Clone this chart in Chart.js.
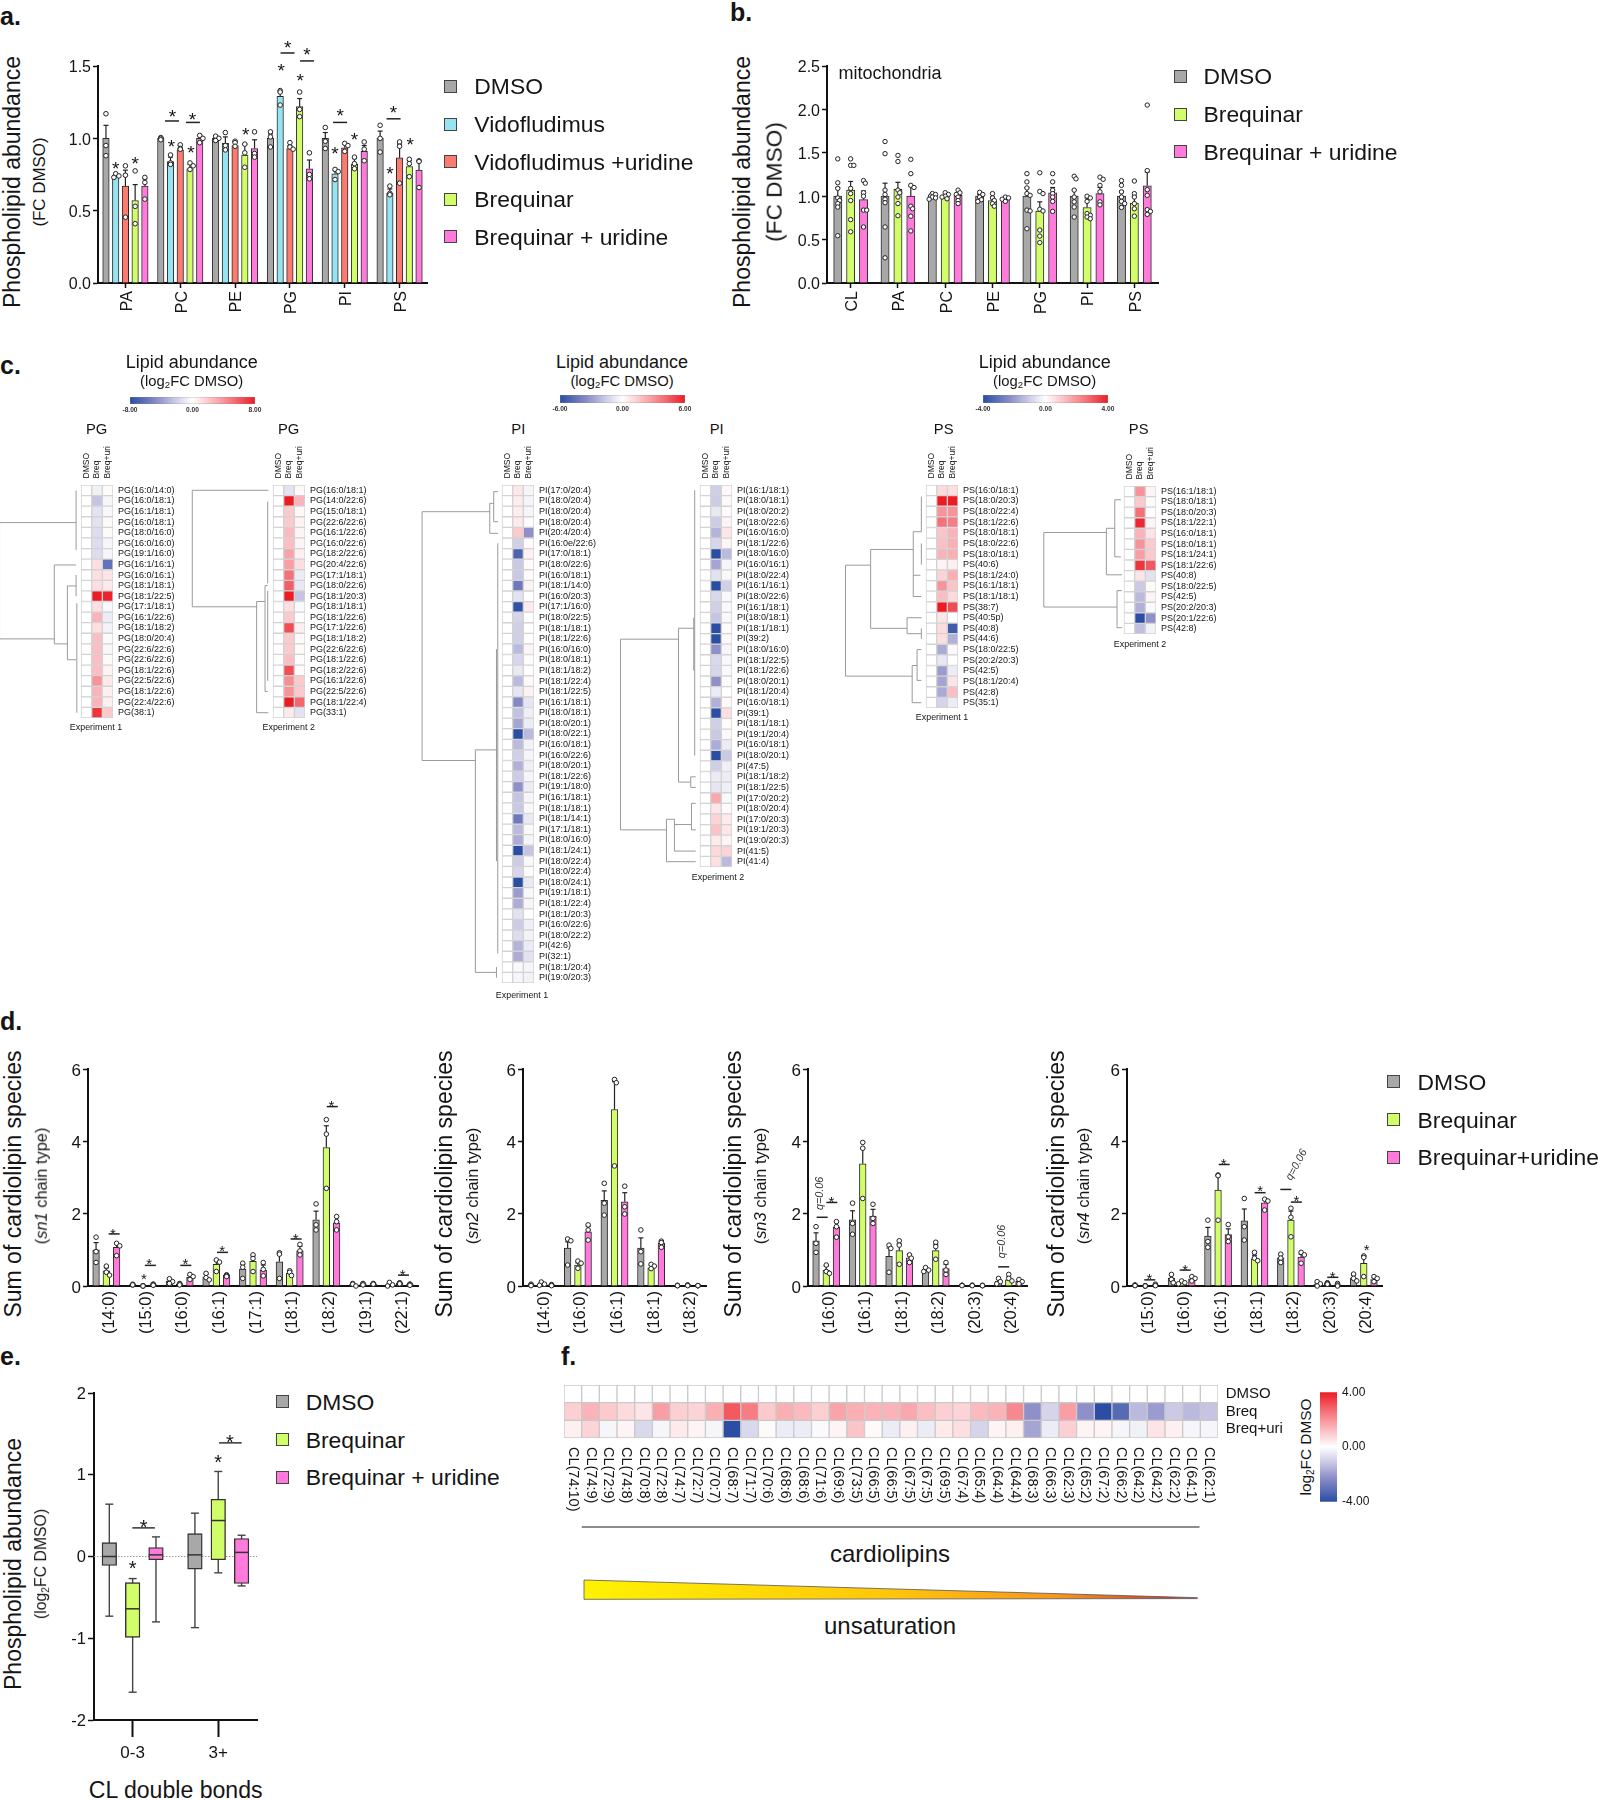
<!DOCTYPE html>
<html><head><meta charset="utf-8">
<style>
html,body{margin:0;padding:0;background:#fff}
#page{position:relative;width:1598px;height:1800px;overflow:hidden;font-family:"Liberation Sans",Arial,sans-serif;color:#151515}
canvas{position:absolute;display:block}
.t{position:absolute;white-space:nowrap;line-height:1;color:#151515}
.s{position:absolute;box-sizing:border-box;border:1px solid #444}
sub{font-size:.65em;line-height:0;vertical-align:-.25em}
</style>
<script src="https://cdn.jsdelivr.net/npm/chart.js@4"></script>
</head><body><div id="page"></div>
<script>
/* ---------- panel a ---------- */
const aCats=['PA','PC','PE','PG','PI','PS'];
const aDmso=[1,1,1,1,1,1];
const aVido=[.745,.84,.965,1.29,.755,.62];
const aVidoUri=[.67,.92,.95,.93,.935,.865];
const aBreq=[.57,.79,.885,1.22,.82,.805];
const aBreqUri=[.67,1,.93,.79,.91,.78];
const aDmsoErr=[1.09,1.005,1.01,1.03,1.04,1.05];
const aVidoErr=[.75,.87,1.01,1.32,.78,.65];
const aVidoUriErr=[.78,.95,.98,.95,.96,.96];
const aBreqErr=[.68,.82,.96,1.275,.86,.845];
const aBreqUriErr=[.72,1.02,.99,.85,.95,.84];
const aDmsoPts=[[1.17,.95,.88],[1.005,1,.99],[1.015,1,.985],[1.045,1.01,.94],[1.075,.98,.93],[1.09,1,.905]];
const aVidoPts=[[.755,.73,.74],[.885,.83,.82],[1.04,.95,.92],[1.33,1.32,1.23],[.785,.77,.715],[.67,.62,.61]];
const aVidoUriPts=[[.81,.745,.455],[.955,.93,.925],[.98,.97,.945],[.97,.94,.925],[.965,.95,.91],[.975,.945,.69]];
const aBreqPts=[[.775,.53,.41],[.83,.81,.785],[.96,.9,.8],[1.32,1.2,1.15],[.87,.825,.79],[.855,.825,.735]];
const aBreqUriPts=[[.73,.695,.58],[1.02,1,.97],[1.045,.895,.87],[.9,.75,.72],[.975,.925,.845],[.845,.84,.66]];
const aBrackets=[[1,-.85,1.12],[1,1.3,1.11],[3,-.24,1.59],[3,1.76,1.535],[4,-.48,1.11],[5,-.62,1.135]];
const aStars=[[0,-1,.82],[0,1,.86],[1,-.9,.975],[1,1.1,.935],[1,-.8,1.18],[1,1.25,1.16],[2,1.1,1.06],[3,-.9,1.5],[3,1.05,1.43],[3,-.24,1.66],[3,1.76,1.61],[4,-1,.925],[4,1,1.02],[4,-.48,1.19],[5,-1,.785],[5,1.1,.99],[5,-.62,1.21]];
/* ---------- panel b ---------- */
const bCats=['CL','PA','PC','PE','PG','PI','PS'];
const bDmso=[1,1,1,1,1,1,1];
const bBreq=[1.07,1.08,1,.95,.83,.87,.92];
const bBreqUri=[.96,1,1.01,.97,1.04,1.03,1.12];
const bDmsoErr=[1.1,1.15,1.01,1.02,1.1,1.07,1.06];
const bBreqErr=[1.17,1.16,1.01,.99,.935,.98,1];
const bBreqUriErr=[1.06,1.12,1.04,.98,1.1,1.1,1.28];
const bDmsoPts=[[1.43,1.155,1.09,.98,.95,.915,.875,.545],[1.63,1.49,1.07,1.02,.965,.925,.645,.29],[1.03,1.02,1,.99,.98,.965],[1.045,1.02,.99,.96,.94],[1.26,1.165,1.095,1.03,1.01,.84,.83,.625],[1.23,1.2,1.07,.99,.935,.875,.76],[1.18,1.125,1.05,.99,.94,.915,.87]];
const bBreqPts=[[1.43,1.355,1.355,1.09,1.03,.95,.73,.59],[1.47,1.4,1.07,1.04,.99,.915,.775],[1.04,1.02,1,.99,.97],[1.03,.98,.95,.915,.885],[1.27,1.055,1.03,.85,.83,.61,.54,.465],[1,.98,.94,.8,.78,.76,.74],[1.175,1.03,.99,.915,.855,.77]];
const bBreqUriPts=[[1.18,1.15,1.04,1,.84,.84,.645],[1.425,1.26,1.125,1.1,.885,.855,.77,.6],[1.07,1.04,1.02,.99,.95,.915],[.99,.98,.965,.94],[1.26,1.165,1.07,1.03,.99,.94,.825],[1.22,1.195,1.125,1.05,.935,.9],[2.05,1.295,1.075,1.01,.845,.825,.79]];
/* ---------- panel c ---------- */
const pg1Labels=['PG(16:0/14:0)','PG(16:0/18:1)','PG(16:1/18:1)','PG(16:0/18:1)','PG(18:0/16:0)','PG(16:0/16:0)','PG(19:1/16:0)','PG(16:1/16:1)','PG(16:0/16:1)','PG(18:1/18:1)','PG(18:1/22:5)','PG(17:1/18:1)','PG(16:1/22:6)','PG(18:1/18:2)','PG(18:0/20:4)','PG(22:6/22:6)','PG(22:6/22:6)','PG(18:1/22:6)','PG(22:5/22:6)','PG(18:1/22:6)','PG(22:4/22:6)','PG(38:1)'];
const pg1Breq=[-.6,-2.4,-1.2,-1.2,-1.4,-1.4,-1.4,1.2,1.2,1.2,8,1.2,2.8,1.2,2.4,2.4,2.4,2.4,4,2.8,2.8,7.2];
const pg1Uri=[.2,-.4,-.3,.2,.2,-.4,-.4,-6,1,.8,7.8,-.3,-.8,-.5,-.2,-.3,.2,.5,.8,.6,.6,2];
const pg1Dendro=[[7.67,3.05,7.67,14.03],[7.67,3.05,.47,3.05],[7.67,14.03,2.52,14.03],[2.52,7.05,2.52,14.5],[2.52,7.05,.47,7.05],[2.52,14.5,1.29,14.5],[1.29,9.03,1.29,16],[1.29,9.03,.47,9.03],[1.29,16,.47,16],[.47,.03,.47,5.63],[.47,8,.47,10],[.4,10.66,.4,21]];
const pg2Labels=['PG(16:0/18:1)','PG(14:0/22:6)','PG(15:0/18:1)','PG(22:6/22:6)','PG(16:1/22:6)','PG(16:0/22:6)','PG(18:2/22:6)','PG(20:4/22:6)','PG(17:1/18:1)','PG(18:0/22:6)','PG(18:1/20:3)','PG(18:1/18:1)','PG(18:1/22:6)','PG(17:1/22:6)','PG(18:1/18:2)','PG(22:6/22:6)','PG(18:1/22:6)','PG(18:2/22:6)','PG(16:1/22:6)','PG(22:5/22:6)','PG(18:1/22:4)','PG(33:1)'];
const pg2Breq=[-1.2,8,2,2,2.6,2.4,3.4,3.6,5.2,5.8,8,1.2,2,6.4,2,2,2.4,6.4,4.2,4,8,.8];
const pg2Uri=[.3,2.8,.3,.5,.4,.4,.6,1.2,-.8,-1,-2.4,-.2,-.1,.6,.2,.2,.1,.2,2,2,5.6,-1.2];
const pg2Dendro=[[7.58,0,7.58,11],[7.58,0,.44,0],[7.58,11,1.54,11],[1.54,10.5,1.54,21],[1.54,10.5,.75,10.5],[1.54,21,.44,21],[.75,9,.75,19],[.75,19,.5,19],[.75,9,.5,9],[.5,1.07,.5,8.78],[.5,9.5,.5,18]];
const pi1Labels=['PI(17:0/20:4)','PI(18:0/20:4)','PI(18:0/20:4)','PI(18:0/20:4)','PI(20:4/20:4)','PI(16:0e/22:6)','PI(17:0/18:1)','PI(18:0/22:6)','PI(16:0/18:1)','PI(18:1/14:0)','PI(16:0/20:3)','PI(17:1/16:0)','PI(18:0/22:5)','PI(18:1/18:1)','PI(18:1/22:6)','PI(16:0/16:0)','PI(18:0/18:1)','PI(18:1/18:2)','PI(18:1/22:4)','PI(18:1/22:5)','PI(16:1/18:1)','PI(18:0/18:1)','PI(18:0/20:1)','PI(18:0/22:1)','PI(16:0/18:1)','PI(16:0/22:6)','PI(18:0/20:1)','PI(18:1/22:6)','PI(19:1/18:0)','PI(16:1/18:1)','PI(18:1/18:1)','PI(18:1/14:1)','PI(17:1/18:1)','PI(18:0/16:0)','PI(18:1/24:1)','PI(18:0/22:4)','PI(18:0/22:4)','PI(18:0/24:1)','PI(19:1/18:1)','PI(18:1/22:4)','PI(18:1/20:3)','PI(16:0/22:6)','PI(18:0/22:2)','PI(42:6)','PI(32:1)','PI(18:1/20:4)','PI(19:0/20:3)'];
const pi1Breq=[.7,.5,.5,.6,1.5,-1.5,-5.1,-1.7,-1.7,-4.2,-.9,-5.8,-1.3,-1.5,-1.5,-2.1,-1.3,-.7,-2.1,-.8,-3.6,-1.9,-2.7,-6,-2.1,-1.5,-2.4,-1.6,-3.3,-1.8,-1.7,-4.2,-2.1,-2.5,-6,-1.6,-1.3,-6,-3,-2.5,-.9,-1.6,-1.1,-2.3,-2.5,-.2,-.3];
const pi1Uri=[-.3,-.3,-.3,.1,-3.3,.1,.4,.1,.1,.4,0,.6,0,0,0,.3,.1,0,.2,.4,-.8,-.5,-.6,-2.1,-.4,-.3,-.5,-.3,-.6,-.3,-.2,-.7,-.2,-.3,-1.8,-.2,-.1,-.7,-.2,-.3,0,-.5,-.4,-.6,-.9,-.3,-.4];
const pi1Dendro=[[7.5,2.02,7.5,25.5],[7.5,2.02,1.15,2.02],[7.5,25.5,2.5,25.5],[1.15,1.23,1.15,4.06],[1.15,1.23,.78,1.23],[1.15,4.06,.37,4.06],[.78,.13,.78,2.96],[.78,.13,.37,.13],[.78,2.96,.37,2.96],[2.5,24.5,2.5,45.5],[2.5,24.5,.52,24.5],[2.5,45.5,.52,45.5],[.52,45,.52,46],[.4,5,.4,43.7],[.52,15,.52,35]];
const pi2Labels=['PI(16:1/18:1)','PI(18:0/18:1)','PI(18:0/20:2)','PI(18:0/22:6)','PI(16:0/16:0)','PI(18:1/22:6)','PI(18:0/16:0)','PI(16:0/16:1)','PI(18:0/22:4)','PI(16:1/16:1)','PI(18:0/22:6)','PI(16:1/18:1)','PI(18:0/18:1)','PI(18:1/18:1)','PI(39:2)','PI(18:0/16:0)','PI(18:1/22:5)','PI(18:1/22:6)','PI(18:0/20:1)','PI(18:1/20:4)','PI(16:0/18:1)','PI(39:1)','PI(18:1/18:1)','PI(19:1/20:4)','PI(16:0/18:1)','PI(18:0/20:1)','PI(47:5)','PI(18:1/18:2)','PI(18:1/22:5)','PI(17:0/20:2)','PI(18:0/20:4)','PI(17:0/20:3)','PI(19:1/20:3)','PI(19:0/20:3)','PI(41:5)','PI(41:4)'];
const pi2Breq=[-1.5,-1.6,-.7,-1.6,-2.3,-1.3,-6,-2.7,-.9,-6,-1.2,-1.5,-1.8,-6,-6,-3.3,-1.2,-1.3,-3.3,-.6,-2.4,-6,-1.5,-1.7,-2.5,-6,-1.5,-.6,-.8,2.4,.7,1.2,1.7,.6,1.1,.9];
const pi2Uri=[.2,.2,.1,.3,.7,.3,-2.1,-.3,-.2,-1.5,-.2,-.2,-.2,.1,.2,-.3,-.2,-.2,.1,0,.2,.9,.1,.2,-.6,-1.7,-.5,-.6,-.5,-.2,.1,.6,.7,.3,1.2,-2.1];
const pi2Dendro=[[7.46,14.03,7.46,32],[7.46,14.03,2.02,14.03],[2.02,13,2.02,27.5],[2.02,13,.59,13],[2.02,27.5,.87,27.5],[.87,27,.87,28],[.87,27,.4,27],[.87,28,.4,28],[.5,0,.5,25],[.59,12,.59,17],[7.46,32,3.15,32],[3.15,31,3.15,35],[3.15,35,.4,35],[3.15,31,2.4,31],[2.4,31,2.4,34],[2.4,34,.4,34],[2.4,31.5,.8,31.5],[.8,29.5,.8,32],[.8,29.5,.4,29.5],[.8,32,.4,32]];
const ps1Labels=['PS(16:0/18:1)','PS(18:0/20:3)','PS(18:0/22:4)','PS(18:1/22:6)','PS(18:0/18:1)','PS(18:0/22:6)','PS(18:0/18:1)','PS(40:6)','PS(18:1/24:0)','PS(16:1/18:1)','PS(18:1/18:1)','PS(38:7)','PS(40:5p)','PS(40:8)','PS(44:6)','PS(18:0/22:5)','PS(20:2/20:3)','PS(42:5)','PS(18:1/20:4)','PS(42:8)','PS(35:1)'];
const ps1Breq=[.7,4,2,2.6,1.1,1.2,1.4,.2,.8,2,1.2,4,.5,.7,.6,-1.7,-.5,-2,-1.8,-1.7,-.9];
const ps1Uri=[.6,4,2,2.4,1.4,1.5,1.5,.3,1.5,1.1,.7,3.2,0,-3.6,-1.6,-.1,0,-.4,.5,1.2,-.4];
const ps1Dendro=[[7.56,7.05,7.56,17.5],[7.56,7.05,5.2,7.05],[5.2,5.57,5.2,13],[5.2,5.57,1.2,5.57],[1.2,3.9,1.2,10],[1.2,3.9,.44,3.9],[1.2,8,.53,8],[1.2,10,.44,10],[.44,.6,.44,3.9],[.44,5,.44,7],[5.2,13,1.78,13],[1.78,12,1.78,13.5],[1.78,12,.4,12],[1.78,13.5,.44,13.5],[.44,13,.44,14],[7.56,17.5,1.3,17.5],[1.3,16.5,1.3,20],[1.3,20,.44,20],[1.3,16.5,.84,16.5],[.84,15,.84,17.9],[.84,15,.44,15],[.84,17.9,.44,17.9]];
const ps2Labels=['PS(16:1/18:1)','PS(18:0/18:1)','PS(18:0/20:3)','PS(18:1/22:1)','PS(16:0/18:1)','PS(18:0/18:1)','PS(18:1/24:1)','PS(18:1/22:6)','PS(40:8)','PS(18:0/22:5)','PS(42:5)','PS(20:2/20:3)','PS(20:1/22:6)','PS(42:8)'];
const ps2Breq=[2,1,2.6,3.8,1.4,2,1.8,3.6,.5,-1.1,-1.4,-1.6,-4,-1.3];
const ps2Uri=[.2,.1,0,.2,.5,1,1,3,-.6,.1,.2,-.1,-2.2,-.3];
const ps2Dendro=[[7.53,3.9,7.53,10.95],[7.53,3.9,1.66,3.9],[1.66,3.5,1.66,7.9],[1.66,7.9,.2,7.9],[1.66,3.5,.87,3.5],[.87,.8,.87,6.2],[.87,.8,.3,.8],[.87,6.2,.3,6.2],[7.53,10.95,.66,10.95],[.66,9.4,.66,12.9],[.66,9.4,.2,9.4],[.66,12.9,.2,12.9]];
const heatCols=['DMSO','Breq','Breq+uri'];
/* ---------- panel d ---------- */
const d1Cats=['(14:0)','(15:0)','(16:0)','(16:1)','(17:1)','(18:1)','(18:2)','(19:1)','(22:1)'];
const d1Dmso=[1,.04,.13,.25,.47,.67,1.83,.04,.05];
const d1Breq=[.42,.01,.05,.6,.68,.35,3.83,.05,.08];
const d1Uri=[1.07,.04,.24,.3,.43,.97,1.75,.06,.05];
const d1DmsoErr=[1.2,.05,.18,.33,.6,.88,2.07,.06,.08];
const d1BreqErr=[.5,.01,.06,.7,.83,.42,4.43,.06,.09];
const d1UriErr=[1.18,.05,.29,.32,.58,1.1,1.9,.07,.06];
const d1DmsoPts=[[1.35,.95,.65],[.05,.03,.03],[.2,.12,.07],[.35,.23,.17],[.63,.52,.21],[.92,.88,.21],[2.27,1.69,1.55],[.07,.05,0],[.1,.03,0]];
const d1BreqPts=[[.55,.38,.3],[.01,0,0],[.07,.05,.03],[.72,.66,.4],[.86,.76,.4],[.42,.38,.29],[4.6,4.2,2.7],[.07,.06,.03],[.09,.08,.06]];
const d1UriPts=[[1.18,1.11,.84],[.055,.035,.02],[.32,.26,.18],[.31,.29,.26],[.65,.46,.28],[1.15,.97,.86],[1.92,1.78,1.55],[.07,.06,.05],[.055,.04,.02]];
const d1Brackets=[[0,.76,1.44],[1,.72,.57],[2,.6,.57],[3,.6,.93],[5,.63,1.3],[6,.58,4.96],[8,.37,.3]];
const d1Stars=[[0,.65,1.55],[1,.6,.7],[1,.09,.29],[2,.56,.7],[3,.56,1.06],[5,.59,1.41],[6,.5,5.08],[8,.3,.42]];
const d2Cats=['(14:0)','(16:0)','(16:1)','(18:1)','(18:2)'];
const d2Dmso=[.03,1.05,2.37,1.05,.01];
const d2Breq=[.06,.58,4.88,.5,.02];
const d2Uri=[.03,1.5,2.33,1.18,.01];
const d2DmsoErr=[.04,1.22,2.63,1.33,.02];
const d2BreqErr=[.08,.64,5.65,.58,.03];
const d2UriErr=[.04,1.65,2.58,1.25,.02];
const d2DmsoPts=[[.05,.03,.01],[1.3,1.25,.58],[2.84,2.29,1.96],[1.55,.95,.61],[.01,.01,.02]];
const d2BreqPts=[[.11,.05,.02],[.69,.63,.49],[5.71,5.62,3.32],[.6,.55,.48],[.01,.02,.03]];
const d2UriPts=[[.04,.02,.01],[1.69,1.55,1.27],[2.76,2.19,1.99],[1.24,1.2,1.07],[.01,.01,.01]];
const d3Cats=['(16:0)','(16:1)','(18:1)','(18:2)','(20:3)','(20:4)'];
const d3Dmso=[1.25,1.83,.82,.43,.02,.13];
const d3Breq=[.43,3.38,.98,.98,.02,.17];
const d3Uri=[1.62,1.93,.78,.48,.01,.13];
const d3DmsoErr=[1.47,2.08,1.05,.5,.03,.19];
const d3BreqErr=[.55,3.8,1.17,1.15,.03,.25];
const d3UriErr=[1.77,2.12,.87,.6,.02,.18];
const d3DmsoPts=[[1.64,1.18,.93],[2.29,1.73,1.43],[1.13,1.04,.38],[.51,.44,.4],[.01,.02,.02],[.21,.12,.06]];
const d3BreqPts=[[.58,.4,.35],[3.97,3.81,2.42],[1.25,1.13,.6],[1.21,1.09,.74],[.01,.02,.02],[.32,.21,.14]];
const d3UriPts=[[1.78,1.64,1.35],[2.26,1.87,1.73],[.86,.77,.65],[.65,.44,.32],[.01,.01,.02],[.18,.12,.06]];
const d3Brackets=[[0,-.4,1.9],[0,.55,2.31],[5,-.5,.53]];
const d3Stars=[[0,.5,2.42]];
const d3Notes=[[0,-.6,2.56,-90,'q=0.06'],[5,-.67,1.23,-90,'q=0.06']];
const d4Cats=['(15:0)','(16:0)','(16:1)','(18:1)','(18:2)','(20:3)','(20:4)'];
const d4Dmso=[.03,.22,1.38,1.8,.78,.05,.22];
const d4Breq=[.01,.1,2.65,.75,1.82,.07,.63];
const d4Uri=[.03,.2,1.42,2.3,.8,.03,.18];
const d4DmsoErr=[.04,.33,1.62,2.13,.87,.1,.3];
const d4BreqErr=[.01,.13,3.05,.85,2.07,.09,.83];
const d4UriErr=[.04,.25,1.58,2.38,.88,.05,.23];
const d4DmsoPts=[[.03,.02,.01],[.32,.18,.09],[1.82,1.23,1.07],[2.42,1.64,1.27],[.88,.77,.65],[.12,.06,0],[.33,.21,.14]];
const d4BreqPts=[[.01,0,0],[.14,.09,.06],[3.07,3.05,1.82],[.93,.77,.7],[2.15,1.9,1.36],[.09,.07,.05],[.83,.79,.26]];
const d4UriPts=[[.05,.02,.01],[.26,.21,.14],[1.7,1.36,1.23],[2.4,2.35,2.1],[.93,.86,.63],[.07,.03,0],[.26,.21,.12]];
const d4Brackets=[[0,.45,.17],[1,.35,.44],[2,.6,3.36],[3,.55,2.58],[4,-.5,2.67],[4,.53,2.32],[5,.53,.24]];
const d4Stars=[[0,.4,.29],[1,.35,.55],[2,.55,3.47],[3,.55,2.72],[4,.55,2.44],[5,.53,.35],[6,.28,1.11]];
const d4Notes=[[4,.55,3.35,-62,'q=0.06']];
/* ---------- panel e: [low, q1, median, q3, high] ---------- */
const eCats=['0-3','3+'];
const eDmso=[[-.73,-.11,0,.17,.64],[-.87,-.155,.02,.28,.53]];
const eBreq=[[-1.66,-.99,-.64,-.32,-.27],[-.2,-.04,.44,.7,1.04]];
const eUri=[[-.8,-.04,.02,.11,.24],[-.36,-.33,.05,.22,.26]];
const eBrackets=[[0,.47,.35],[1,.52,1.39]];
const eStars=[[0,.47,.42],[0,0,-.09],[1,.5,1.46],[1,0,1.21]];
/* ---------- panel f ---------- */
const clLabels=['CL(74:10)','CL(74:9)','CL(72:9)','CL(74:8)','CL(70:8)','CL(72:8)','CL(74:7)','CL(72:7)','CL(70:7)','CL(68:7)','CL(71:7)','CL(70:6)','CL(68:6)','CL(68:6)','CL(71:6)','CL(69:6)','CL(73:5)','CL(66:5)','CL(66:5)','CL(67:5)','CL(67:5)','CL(69:5)','CL(67:4)','CL(65:4)','CL(64:4)','CL(64:4)','CL(68:3)','CL(66:3)','CL(62:3)','CL(65:2)','CL(67:2)','CL(66:2)','CL(64:2)','CL(64:2)','CL(62:2)','CL(64:1)','CL(62:1)'];
const clBreq=[.9,1.4,1,.7,.5,1.8,.9,.8,1.5,3,2.4,1,1.5,1.3,.9,1.7,1.5,1.4,1.4,1.6,1.2,.9,.8,1.3,1.4,2.2,-2.2,-.9,1.8,-2.2,-4,-3.2,-1.4,-2,-1.1,-1.4,-1.2];
const clUri=[.3,.8,-.2,.2,-.8,-.2,.4,.2,-.2,-4,-.8,.1,-.4,-.4,-.1,.2,1.1,.1,-.4,.3,-.4,.4,.6,-.9,.2,.3,-1.8,-.4,.9,.2,.2,-.2,-.3,.5,.3,-.2,-.2];

/* ---------- helpers ---------- */
const GRAY='#A8A8A8',CYAN='#96E3F2',RED='#FB7B70',LIME='#D2FD6B',PINK='#FF7ADB',INK='#151515';
const FONT='"Liberation Sans",Arial,sans-serif';
Chart.defaults.animation=false;
Chart.defaults.font.family=FONT;
Chart.defaults.color=INK;
Chart.defaults.plugins.legend.display=false;
Chart.defaults.plugins.tooltip.enabled=false;
const page=document.getElementById('page');
function mkCanvas(x,y,w,h){const c=document.createElement('canvas');c.width=Math.round(w);c.height=Math.round(h);c.style.left=x+'px';c.style.top=y+'px';c.style.width=Math.round(w)+'px';c.style.height=Math.round(h)+'px';page.appendChild(c);return c;}
function label(html,x,y,size,o={}){const d=document.createElement('div');d.className='t';d.innerHTML=html;d.style.fontSize=size+'px';d.style.left=x+'px';d.style.top=y+'px';
  const ax=o.left?'0':'-50%';d.style.transform=`translate(${ax},-50%)`+(o.rot?` rotate(${o.rot}deg)`:'');
  if(o.weight)d.style.fontWeight=o.weight;page.appendChild(d);}
function legend(x,tx,ys,names,cols,size=22.9,w=13){names.forEach((n,i)=>{const s=document.createElement('div');s.className='s';s.style.cssText+=`left:${x}px;top:${ys[i]-w/2}px;width:${w}px;height:${w}px;background:${cols[i]}`;page.appendChild(s);label(n,tx,ys[i],size,{left:1});});}
function heatColor(v,range){const f=Math.max(-1,Math.min(1,v/range));
  const blue=[[0,255,255,255],[.25,208,207,232],[.55,143,144,202],[1,43,77,163]];
  const red=[[0,255,255,255],[.3,251,191,195],[.6,246,125,132],[1,237,28,36]];
  const st=f<0?blue:red,a=Math.abs(f);
  for(let i=1;i<st.length;i++){if(a<=st[i][0]){const p=st[i-1],q=st[i],t=(a-p[0])/(q[0]-p[0]);
    return `rgb(${[1,2,3].map(k=>Math.round(p[k]+(q[k]-p[k])*t)).join(',')})`;}}
  return 'rgb(237,28,36)';}
function swarm(vals,cat,sx,pxCat,pxUnit,sep){const placed=[];const out=[];
  [...vals].sort((a,b)=>b-a).forEach(v=>{const py=v*pxUnit;let off=0;
    for(const c of [0,1.8,-1.8,3.2,-3.2]){if(placed.every(p=>Math.hypot(p[0]-c,p[1]-py)>=sep)){off=c;break;}off=0;}
    placed.push([off,py]);out.push({x:cat+sx+off/pxCat,y:v});});return out;}
function drawStar(ctx,x,y,size){ctx.save();ctx.font=`${size}px ${FONT}`;ctx.fillStyle=INK;ctx.textAlign='center';ctx.textBaseline='alphabetic';ctx.fillText('*',x,y+.58*size);ctx.restore();}
function line(ctx,x1,y1,x2,y2,w,col){ctx.save();ctx.lineWidth=w;ctx.strokeStyle=col;ctx.beginPath();ctx.moveTo(x1,y1);ctx.lineTo(x2,y2);ctx.stroke();ctx.restore();}

function barPanel(p){
  const padL=48,padR=22,padT=62,padB=70,W=p.right-p.left,H=p.bottom-p.top,n=p.cats.length,m=p.series.length;
  const stepU=p.catPct/m,pxCat=W/n,pxUnit=H/p.ymax,thick=pxCat*p.catPct/m*p.barPct;
  const ds=p.series.map((s,i)=>({type:'bar',data:s.mean.map((v,k)=>({x:k+(i-(m-1)/2)*stepU,y:v})),backgroundColor:s.color,borderColor:'#2a2a2a',borderWidth:1,order:2,xAxisID:'xp',yAxisID:'y',barThickness:thick,grouped:false,borderSkipped:'bottom'}));
  p.series.forEach((s,i)=>{const pts=[];s.pts.forEach((vals,c)=>pts.push(...swarm(vals,c,(i-(m-1)/2)*stepU,pxCat,pxUnit,p.sep||3.6)));
    ds.push({type:'scatter',data:pts,xAxisID:'xp',yAxisID:'y',order:1,clip:false,pointRadius:p.r||2.4,pointBackgroundColor:'#fff',pointBorderColor:'#222',pointBorderWidth:1,showLine:false});});
  new Chart(mkCanvas(p.left-padL,p.top-padT,W+padL+padR,H+padT+padB),{type:'bar',data:{labels:p.cats,datasets:ds},
    options:{responsive:false,layout:{padding:{top:padT,right:padR,left:0,bottom:0}},
      scales:{
        x:{type:'category',offset:true,border:{color:'#111',width:2},grid:{display:!!p.xTick,offset:false,drawOnChartArea:false,drawTicks:!!p.xTick,tickLength:5,tickColor:'#111',tickWidth:1.5},
           ticks:{autoSkip:false,minRotation:90,maxRotation:90,padding:p.xPad,labelOffset:p.xShift,font:{size:p.catFont},color:INK},afterFit:s=>{s.height=padB;}},
        xp:{type:'linear',display:false,min:-.5,max:n-.5,offset:false},
        y:{type:'linear',min:0,max:p.ymax,border:{color:'#111',width:2},grid:{drawOnChartArea:false,tickLength:5,tickColor:'#111',tickWidth:1.5},
           ticks:{stepSize:p.step,padding:2,labelOffset:2,font:{size:p.tickFont},color:INK,callback:v=>p.dec?v.toFixed(p.dec):String(v)},afterFit:s=>{s.width=padL;}}
      }},
    plugins:[{id:'marks',beforeDatasetsDraw(ch){const X=ch.scales.xp,Y=ch.scales.y,c=ch.ctx;
        p.series.forEach((s,i)=>s.err.forEach((e,k)=>{const x=X.getPixelForValue(k+(i-(m-1)/2)*stepU);
          line(c,x,Y.getPixelForValue(s.mean[k]),x,Y.getPixelForValue(e),1.2,'#222');
          line(c,x-2.5,Y.getPixelForValue(e),x+2.5,Y.getPixelForValue(e),1.2,'#222');}));},
      afterDatasetsDraw(ch){const X=ch.scales.xp,Y=ch.scales.y,c=ch.ctx;const xOf=(k,s)=>X.getPixelForValue(k+s*stepU);
        (p.brackets||[]).forEach(b=>{const x=xOf(b[0],b[1]),y=Y.getPixelForValue(b[2]);line(c,x-p.brW,y,x+p.brW,y,1.5,'#222');});
        (p.stars||[]).forEach(b=>drawStar(c,xOf(b[0],b[1]),Y.getPixelForValue(b[2]),p.starSize));
        (p.notes||[]).forEach(b=>{c.save();c.translate(xOf(b[0],b[1]),Y.getPixelForValue(b[2]));c.rotate(b[3]*Math.PI/180);c.font=`italic 10.8px ${FONT}`;c.fillStyle='#333';c.textAlign='center';c.textBaseline='middle';c.fillText(b[4],0,0);c.restore();});
      }}]});
}

function heatPanel(p){
  const cw=p.cw||10.67,rh=p.rh||10.6,D=p.depth,R=80,padT=46,padB=20,n=p.labels.length;
  const colsV=[p.labels.map(()=>0),p.breq,p.uri];
  const ds=colsV.map((vals,c)=>({data:vals.map(()=>[c,c+1]),backgroundColor:vals.map(v=>heatColor(v,p.range)),borderColor:'#D3D3D3',borderWidth:1,borderSkipped:false,barPercentage:1,categoryPercentage:1,grouped:false}));
  new Chart(mkCanvas(p.left-D*cw,p.top-padT,(D+3)*cw+R,n*rh+padT+padB),{type:'bar',data:{labels:p.labels,datasets:ds},
    options:{indexAxis:'y',responsive:false,layout:{padding:{top:padT,bottom:padB,left:0,right:0}},
      scales:{x:{type:'linear',display:false,min:-D,max:3},
        y:{type:'category',position:'right',offset:true,grid:{display:false,drawTicks:false},border:{display:false},ticks:{autoSkip:false,padding:5,font:{size:9},color:INK},afterFit:s=>{s.width=R;}}}},
    plugins:[{id:'dendro',afterDatasetsDraw(ch){const X=ch.scales.x,Y=ch.scales.y,c=ch.ctx;
        p.dendro.forEach(d=>line(c,X.getPixelForValue(-d[0]),Y.getPixelForValue(d[1]),X.getPixelForValue(-d[2]),Y.getPixelForValue(d[3]),1,'#9A9A9A'));
        heatCols.forEach((t,i)=>{c.save();c.translate(X.getPixelForValue(i+.5),ch.chartArea.top-6.5);c.rotate(-Math.PI/2);c.font=`8.5px ${FONT}`;c.fillStyle=INK;c.textAlign='left';c.textBaseline='middle';c.fillText(t,0,0);c.restore();});
      }}]});
}

function barGradient(ch,vertical,range){const a=ch.chartArea;if(!a)return '#fff';const g=vertical?ch.ctx.createLinearGradient(0,a.bottom,0,a.top):ch.ctx.createLinearGradient(a.left,0,a.right,0);
  for(let i=0;i<=24;i++)g.addColorStop(i/24,heatColor((i/12-1)*range,range));return g;}
function colorBarH(x,y,w,h,range){const pad=16,bot=12;
  new Chart(mkCanvas(x-pad,y,w+2*pad,h+bot),{type:'bar',data:{labels:['scale'],datasets:[{data:[[-range,range]],backgroundColor:c=>barGradient(c.chart,false,range),borderColor:'#8A8A8A',borderWidth:.6,borderSkipped:false,barPercentage:1,categoryPercentage:1}]},
    options:{indexAxis:'y',responsive:false,layout:{padding:{left:pad,right:pad,top:0,bottom:0}},scales:{y:{display:false},
      x:{type:'linear',min:-range,max:range,border:{display:false},grid:{display:false,drawTicks:false},ticks:{stepSize:range,padding:2,maxRotation:0,font:{size:6.6,weight:'bold'},color:'#333',callback:v=>v.toFixed(2)},afterFit:s=>{s.height=bot;}}}}});}
function colorBarV(x,y,w,h,range){const R=42,pad=10;
  new Chart(mkCanvas(x,y-pad,w+R,h+2*pad),{type:'bar',data:{labels:['scale'],datasets:[{data:[[-range,range]],backgroundColor:c=>barGradient(c.chart,true,range),borderWidth:0,barPercentage:1,categoryPercentage:1}]},
    options:{responsive:false,layout:{padding:{top:pad,bottom:pad,left:0,right:0}},scales:{x:{display:false},
      y:{type:'linear',position:'right',min:-range,max:range,border:{display:false},grid:{display:false,drawTicks:false},ticks:{stepSize:range,padding:5,font:{size:12},color:INK,callback:v=>v.toFixed(2)},afterFit:s=>{s.width=R;}}}}});}

/* ---------- panel letters ---------- */
label('a.',0,15.5,25,{left:1,weight:'bold'});label('b.',730,11.5,25,{left:1,weight:'bold'});label('c.',0,364.5,25,{left:1,weight:'bold'});
label('d.',0,1020.5,25,{left:1,weight:'bold'});label('e.',0,1355.5,25,{left:1,weight:'bold'});label('f.',561,1355.5,25,{left:1,weight:'bold'});

/* ---------- a ---------- */
barPanel({left:97.9,right:427,top:65.7,bottom:282.7,cats:aCats,ymax:1.5,step:.5,dec:1,tickFont:16,catFont:16,xTick:true,xPad:3,xShift:2,catPct:.887,barPct:.67,r:2.3,starSize:19,brW:7,
  series:[{mean:aDmso,err:aDmsoErr,pts:aDmsoPts,color:GRAY},{mean:aVido,err:aVidoErr,pts:aVidoPts,color:CYAN},{mean:aVidoUri,err:aVidoUriErr,pts:aVidoUriPts,color:RED},{mean:aBreq,err:aBreqErr,pts:aBreqPts,color:LIME},{mean:aBreqUri,err:aBreqUriErr,pts:aBreqUriPts,color:PINK}],
  brackets:aBrackets,stars:aStars});
label('Phospholipid abundance',11.5,181.7,23,{rot:-90});label('(FC DMSO)',40,181.7,16.9,{rot:-90});
legend(444.4,474.3,[86,124,161.7,199,236.7],['DMSO','Vidofludimus','Vidofludimus +uridine','Brequinar','Brequinar + uridine'],[GRAY,CYAN,RED,LIME,PINK]);

/* ---------- b ---------- */
barPanel({left:827.3,right:1158,top:65.7,bottom:282.7,cats:bCats,ymax:2.5,step:.5,dec:1,tickFont:16,catFont:16,xTick:true,xPad:3,xShift:2,catPct:.817,barPct:.64,r:2.2,sep:3,starSize:19,brW:7,
  series:[{mean:bDmso,err:bDmsoErr,pts:bDmsoPts,color:GRAY},{mean:bBreq,err:bBreqErr,pts:bBreqPts,color:LIME},{mean:bBreqUri,err:bBreqUriErr,pts:bBreqUriPts,color:PINK}]});
label('mitochondria',838.5,72.7,18,{left:1});
label('Phospholipid abundance',742,181.7,23,{rot:-90});label('(FC DMSO)',774,181.7,22.7,{rot:-90});
legend(1173.6,1203.5,[76,114,151.7],['DMSO','Brequinar','Brequinar + uridine'],[GRAY,LIME,PINK]);

/* ---------- c ---------- */
const lipidTitle=(cx)=>{label('Lipid abundance',cx,362,18);label('(log<sub>2</sub>FC DMSO)',cx,380.7,14.8);};
lipidTitle(191.7);lipidTitle(622);lipidTitle(1044.7);
colorBarH(130,396.7,125,6.6,8);colorBarH(560,394.5,125,8,6);colorBarH(982.7,394.5,125,8,4);
heatPanel({left:81,top:485,labels:pg1Labels,breq:pg1Breq,uri:pg1Uri,dendro:pg1Dendro,range:8,depth:7.72});
heatPanel({left:273,top:485,labels:pg2Labels,breq:pg2Breq,uri:pg2Uri,dendro:pg2Dendro,range:8,depth:7.7});
heatPanel({left:502.3,top:485,labels:pi1Labels,breq:pi1Breq,uri:pi1Uri,dendro:pi1Dendro,range:6,depth:7.6});
heatPanel({left:700.3,top:485,labels:pi2Labels,breq:pi2Breq,uri:pi2Uri,dendro:pi2Dendro,range:6,depth:7.6});
heatPanel({left:925.7,top:485,labels:ps1Labels,breq:ps1Breq,uri:ps1Uri,dendro:ps1Dendro,range:4,depth:7.7});
heatPanel({left:1123.7,top:486,labels:ps2Labels,breq:ps2Breq,uri:ps2Uri,dendro:ps2Dendro,range:4,depth:7.7});
[['PG',96.7],['PG',288.7],['PI',518.3],['PI',716.7],['PS',943.7],['PS',1138.7]].forEach(t=>label(t[0],t[1],429.3,14.8));
[['Experiment 1',96,726.7],['Experiment 2',288.7,726.7],['Experiment 1',522,994.7],['Experiment 2',718,877],['Experiment 1',942,717.3],['Experiment 2',1140,643.7]].forEach(t=>label(t[0],t[1],t[2],8.9));

/* ---------- d ---------- */
const dBase={top:1069,bottom:1286,ymax:6,step:2,dec:0,tickFont:17,catFont:16.5,xTick:false,xPad:5,xShift:3,catPct:.84,barPct:.65,r:2.3,starSize:15,brW:5.5};
const s3=(a,ae,ap,b,be,bp,c,ce,cp)=>[{mean:a,err:ae,pts:ap,color:GRAY},{mean:b,err:be,pts:bp,color:LIME},{mean:c,err:ce,pts:cp,color:PINK}];
barPanel({...dBase,left:88,right:418,cats:d1Cats,series:s3(d1Dmso,d1DmsoErr,d1DmsoPts,d1Breq,d1BreqErr,d1BreqPts,d1Uri,d1UriErr,d1UriPts),brackets:d1Brackets,stars:d1Stars});
barPanel({...dBase,left:522.8,right:705.8,cats:d2Cats,series:s3(d2Dmso,d2DmsoErr,d2DmsoPts,d2Breq,d2BreqErr,d2BreqPts,d2Uri,d2UriErr,d2UriPts)});
barPanel({...dBase,left:808.3,right:1027.6,cats:d3Cats,series:s3(d3Dmso,d3DmsoErr,d3DmsoPts,d3Breq,d3BreqErr,d3BreqPts,d3Uri,d3UriErr,d3UriPts),brackets:d3Brackets,stars:d3Stars,notes:d3Notes});
barPanel({...dBase,left:1127.4,right:1382.7,cats:d4Cats,series:s3(d4Dmso,d4DmsoErr,d4DmsoPts,d4Breq,d4BreqErr,d4BreqPts,d4Uri,d4UriErr,d4UriPts),brackets:d4Brackets,stars:d4Stars,notes:d4Notes});
[[13.4,41,'sn1'],[444,472,'sn2'],[733,760,'sn3'],[1056,1082.6,'sn4']].forEach(t=>{label('Sum of cardiolipin species',t[0],1184.3,23,{rot:-90});label(`(<i>${t[2]}</i> chain type)`,t[1],1185.7,16.4,{rot:-90});});
legend(1386.7,1417.6,[1081.7,1119.7,1157],['DMSO','Brequinar','Brequinar+uridine'],[GRAY,LIME,PINK]);

/* ---------- e ---------- */
(function(){const left=94,right=256.8,top=1392.7,bottom=1719.3,padL=46,padR=14,padT=14,padB=52,unit=85.5,step=23.3/unit,thick=14.6;
  const c0=132.6;const xMin=(left-c0)/unit,xMax=(right-c0)/unit;
  const sets=[[eDmso,GRAY],[eBreq,LIME],[eUri,PINK]];
  new Chart(mkCanvas(left-padL,top-padT,right-left+padL+padR,bottom-top+padT+padB),{type:'bar',data:{labels:eCats,datasets:sets.map((s,i)=>({data:s[0].map((b,k)=>({x:k+(i-1)*step,y:[b[1],b[3]]})),backgroundColor:s[1],borderColor:'#333',borderWidth:1.4,borderSkipped:false,barThickness:thick,grouped:false}))},
    options:{responsive:false,layout:{padding:{top:padT,right:padR,left:0,bottom:0}},
      scales:{x:{type:'linear',min:xMin,max:xMax,offset:false,border:{color:'#111',width:2},grid:{offset:false,drawOnChartArea:false,tickLength:17,tickColor:'#111',tickWidth:2},afterBuildTicks:s=>{s.ticks=eCats.map((_,k)=>({value:k}));},ticks:{maxRotation:0,padding:6,font:{size:17},color:INK,callback:v=>eCats[v]},afterFit:s=>{s.height=padB;}},
        y:{type:'linear',min:-2,max:2,border:{color:'#111',width:2},grid:{drawOnChartArea:false,tickLength:6,tickColor:'#111',tickWidth:1.5},ticks:{stepSize:1,padding:2,labelOffset:1,font:{size:16.5},color:INK},afterFit:s=>{s.width=padL;}}}},
    plugins:[{id:'box',beforeDatasetsDraw(ch){const X=ch.scales.x,Y=ch.scales.y,c=ch.ctx;
        c.save();c.setLineDash([1.5,1.5]);line(c,ch.chartArea.left,Y.getPixelForValue(0),ch.chartArea.right,Y.getPixelForValue(0),1,'#9a9a9a');c.restore();
        sets.forEach((s,i)=>s[0].forEach((b,k)=>{const x=X.getPixelForValue(k+(i-1)*step);const lo=Y.getPixelForValue(b[0]),hi=Y.getPixelForValue(b[4]);
          line(c,x,lo,x,hi,1.4,'#444');line(c,x-4,lo,x+4,lo,1.4,'#444');line(c,x-4,hi,x+4,hi,1.4,'#444');}));},
      afterDatasetsDraw(ch){const X=ch.scales.x,Y=ch.scales.y,c=ch.ctx;
        sets.forEach((s,i)=>s[0].forEach((b,k)=>{const x=X.getPixelForValue(k+(i-1)*step),y=Y.getPixelForValue(b[2]);line(c,x-7.3,y,x+7.3,y,1.5,'#333');}));
        eBrackets.forEach(b=>{const x=X.getPixelForValue(b[0]+b[1]*step),y=Y.getPixelForValue(b[2]);line(c,x-11.3,y,x+11.3,y,1.5,'#333');});
        eStars.forEach(b=>drawStar(c,X.getPixelForValue(b[0]+b[1]*step),Y.getPixelForValue(b[2]),20));}}]});
})();
label('Phospholipid abundance',12.5,1564,23,{rot:-90});label('(log<sub>2</sub>FC DMSO)',40.5,1564,15.8,{rot:-90});
label('CL double bonds',175.7,1791,23.1);
legend(276,305.7,[1401.7,1439.7,1477],['DMSO','Brequinar','Brequinar + uridine'],[GRAY,LIME,PINK]);

/* ---------- f ---------- */
(function(){const left=563.7,right=1217.6,top=1385,bottom=1438.3,padR=70,padB=90;
  const rows=[clLabels.map(()=>0),clBreq,clUri];
  new Chart(mkCanvas(left,top,right-left+padR,bottom-top+padB),{type:'bar',data:{labels:clLabels,datasets:rows.map((vals,r)=>({data:vals.map(()=>[r,r+1]),backgroundColor:vals.map(v=>heatColor(v,4)),borderColor:'#C9C9C9',borderWidth:1,borderSkipped:false,barPercentage:1,categoryPercentage:1,grouped:false}))},
    options:{responsive:false,layout:{padding:{left:0,top:0,right:padR,bottom:padB}},scales:{x:{type:'category',offset:true,display:false},y:{type:'linear',min:0,max:3,reverse:true,display:false}}},
    plugins:[{id:'cl',afterDatasetsDraw(ch){const X=ch.scales.x,Y=ch.scales.y,c=ch.ctx;
      clLabels.forEach((t,i)=>{c.save();c.translate(X.getPixelForValue(i),ch.chartArea.bottom+9);c.rotate(Math.PI/2);c.font=`14.5px ${FONT}`;c.fillStyle=INK;c.textAlign='left';c.textBaseline='middle';c.fillText(t,0,0);c.restore();});
      heatCols.forEach((t,i)=>{c.font=`15px ${FONT}`;c.fillStyle=INK;c.textAlign='left';c.textBaseline='middle';c.fillText(t,ch.chartArea.right+7.7,Y.getPixelForValue(i+.5));});}}]});
})();
colorBarV(1320,1390,17,114,4);
label('log<sub>2</sub>FC DMSO',1306,1446.7,15.4,{rot:-90});
label('cardiolipins',890,1554.3,24);label('unsaturation',890,1626,24);
const svgNS='http://www.w3.org/2000/svg';
page.insertAdjacentHTML('beforeend',`<svg style="position:absolute;left:0;top:0" width="1598" height="1800" xmlns="${svgNS}">
<defs><linearGradient id="tri" x1="0" x2="1" y1="0" y2="0"><stop offset="0" stop-color="#FFF200"/><stop offset=".5" stop-color="#FFC60B"/><stop offset=".78" stop-color="#F7941D"/><stop offset="1" stop-color="#C1272D"/></linearGradient></defs>
<line x1="581.8" y1="1527" x2="1199.5" y2="1527" stroke="#666" stroke-width="1.4"/>
<polygon points="584,1580 1197.3,1597.7 1197.3,1598.6 584,1599.3" fill="url(#tri)" stroke="#555" stroke-width=".8"/></svg>`);
</script></body></html>
